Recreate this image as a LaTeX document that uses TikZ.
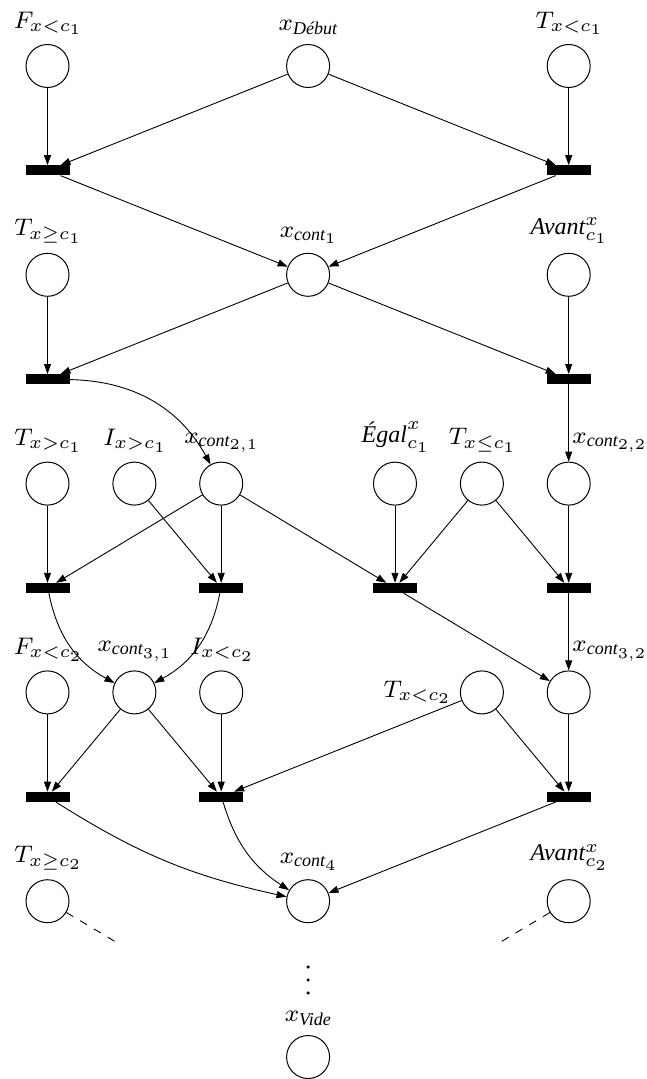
\documentclass[tikz,border=0pt]{standalone}
\usepackage{amsmath}
\usepackage[no-math]{fontspec}
\newfontfamily\tmfont{Liberation Serif}
\newcommand\ti[1]{\text{\tmfont\itshape #1}}
% small-design-size Computer Modern faces, set large
\DeclareFontShape{OML}{cmm}{m}{it}{<-16>cmmi5 <16-21>cmmi6 <21->cmmi8}{}
\DeclareFontShape{OT1}{cmr}{m}{n}{<-16>cmr5 <16-21>cmr6 <21->cmr8}{}
\DeclareFontShape{OMS}{cmsy}{m}{n}{<-16>cmsy5 <16-21>cmsy6 <21->cmsy8}{}
\DeclareMathSizes{24}{24}{18}{15}
\usetikzlibrary{arrows.meta}

\begin{document}
\begin{tikzpicture}[x=1pt, y=-1pt,
  font=\fontsize{24}{28}\selectfont,
  place/.style={circle, draw, line width=1pt, minimum size=43pt, inner sep=0pt},
  trans/.style={rectangle, fill=black, minimum width=44pt, minimum height=10pt, inner sep=0pt},
  lbl/.style={inner sep=0pt},
  arc/.style={draw, line width=0.9pt, -{Triangle[length=10pt, width=7pt]}},
  ghost/.style={draw, line width=0.9pt, dash pattern=on 8pt off 8pt},
  dot/.style={circle, fill=black, inner sep=0pt, minimum size=3.6pt}]
\useasboundingbox (0,0) rectangle (647,1079);

% first layer
\node[place, label={[lbl, label distance=9pt]above:$F_{x<c_1}$}] (F1) at (47.5,66) {};
\node[place, label={[lbl, label distance=9pt]above:$x_{\ti{Début}}$}] (deb) at (308.1,66) {};
\node[place, label={[lbl, label distance=9pt]above:$T_{x<c_1}$}] (T1) at (568.7,66) {};
\node[trans] (t1) at (47.5,170.4) {};
\node[trans] (t2) at (568.7,170.4) {};

% second layer
\node[place, label={[lbl, label distance=9pt]above:$T_{x\geq c_1}$}] (Tge1) at (47.5,274.8) {};
\node[place, label={[lbl, label distance=9pt]above:$x_{\ti{cont}_1}$}] (k1) at (308.1,274.8) {};
\node[place, label={[lbl, label distance=9pt]above:$\ti{Avant}^x_{c_1}$}] (av1) at (568.7,274.8) {};
\node[trans] (t3) at (47.5,379.2) {};
\node[trans] (t4) at (568.7,379.2) {};

% third layer
\node[place, label={[lbl, label distance=9pt]above:$T_{x>c_1}$}] (Tgt1) at (47.5,483.6) {};
\node[place, label={[lbl, label distance=9pt]above:$I_{x>c_1}$}] (Igt1) at (134.4,483.6) {};
\node[place, label={[lbl, label distance=9pt]above:$x_{\ti{cont}_{2,1}}$}] (k21) at (221.2,483.6) {};
\node[place, label={[lbl, label distance=9pt]above:$\ti{Égal}^x_{c_1}$}] (eg1) at (395.0,483.6) {};
\node[place, label={[lbl, label distance=9pt]above:$T_{x\leq c_1}$}] (Tle1) at (481.9,483.6) {};
\node[place] (k22) at (568.7,483.6) {};
\node[lbl, anchor=south west] (k22l) at ([xshift=3.5pt, yshift=9pt]k22.north) {$x_{\ti{cont}_{2,2}}$};
\node[trans] (t5) at (47.5,588) {};
\node[trans] (t6) at (221.2,588) {};
\node[trans] (t7) at (395.0,588) {};
\node[trans] (t8) at (568.7,588) {};

% fourth layer
\node[place, label={[lbl, label distance=9pt]above:$F_{x<c_2}$}] (Flt2) at (47.5,692.4) {};
\node[place, label={[lbl, label distance=9pt]above:$x_{\ti{cont}_{3,1}}$}] (k31) at (134.4,692.4) {};
\node[place, label={[lbl, label distance=9pt]above:$I_{x<c_2}$}] (Ilt2) at (221.2,692.4) {};
\node[place, label={[lbl, label distance=10pt]left:$T_{x<c_2}$}] (Tlt2) at (481.9,692.4) {};
\node[place] (k32) at (568.7,692.4) {};
\node[lbl, anchor=south west] (k32l) at ([xshift=3.5pt, yshift=9pt]k32.north) {$x_{\ti{cont}_{3,2}}$};
\node[trans] (t9) at (47.5,796.8) {};
\node[trans] (t10) at (221.2,796.8) {};
\node[trans] (t11) at (568.7,796.8) {};

% fifth layer
\node[place, label={[lbl, label distance=9pt]above:$T_{x\geq c_2}$}] (Tge2) at (47.5,901.2) {};
\node[place, label={[lbl, label distance=9pt]above:$x_{\ti{cont}_4}$}] (k4) at (308.1,901.2) {};
\node[place, label={[lbl, label distance=9pt]above:$\ti{Avant}^x_{c_2}$}] (av2) at (568.7,901.2) {};
\coordinate (dl) at (117.5,943);
\coordinate (dr) at (499,943);

% continuation and final place
\node[dot] (d1) at (308.1,967) {};
\node[dot] (d2) at (308.1,980) {};
\node[dot] (d3) at (308.1,993) {};
\node[place, label={[lbl, label distance=9pt]above:$x_{\ti{Vide}}$}] (vide) at (308.1,1057) {};

% arcs
\draw[arc] (F1) -- (t1);
\draw[arc] (deb) -- (t1);
\draw[arc] (deb) -- (t2);
\draw[arc] (T1) -- (t2);
\draw[arc] (t1) -- (k1);
\draw[arc] (t2) -- (k1);

\draw[arc] (Tge1) -- (t3);
\draw[arc] (k1) -- (t3);
\draw[arc] (k1) -- (t4);
\draw[arc] (av1) -- (t4);
\draw[arc] (t3) to[bend left=30] (k21);
\draw[arc] (t4) -- (k22);

\draw[arc] (Tgt1) -- (t5);
\draw[arc] (k21) -- (t5);
\draw[arc] (Igt1) -- (t6);
\draw[arc] (k21) -- (t6);
\draw[arc] (k21) -- (t7);
\draw[arc] (eg1) -- (t7);
\draw[arc] (Tle1) -- (t7);
\draw[arc] (Tle1) -- (t8);
\draw[arc] (k22) -- (t8);
\draw[arc] (t5) to[bend right=25] (k31);
\draw[arc] (t6) to[bend left=25] (k31);
\draw[arc] (t7) -- (k32);
\draw[arc] (t8) -- (k32);

\draw[arc] (Flt2) -- (t9);
\draw[arc] (k31) -- (t9);
\draw[arc] (k31) -- (t10);
\draw[arc] (Ilt2) -- (t10);
\draw[arc] (Tlt2) -- (t10);
\draw[arc] (Tlt2) -- (t11);
\draw[arc] (k32) -- (t11);
\draw[arc] (t9) to[bend right=10] (k4);
\draw[arc] (t10) to[bend right=20] (k4);
\draw[arc] (t11) -- (k4);

\draw[ghost] (Tge2) -- (dl);
\draw[ghost] (av2) -- (dr);
\end{tikzpicture}
\end{document}
